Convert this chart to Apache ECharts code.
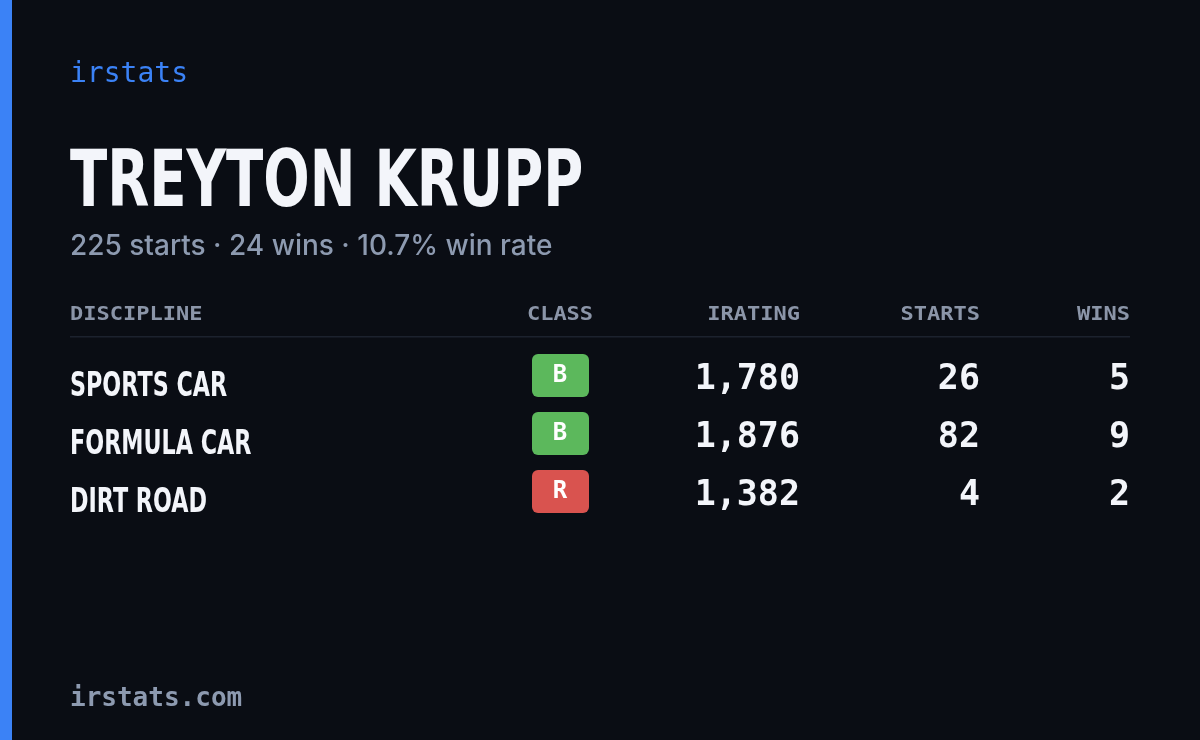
<!DOCTYPE html>
<html><head><meta charset="utf-8">
<script src="https://cdn.jsdelivr.net/npm/echarts@6/dist/echarts.min.js"></script>
<style>html,body{margin:0;padding:0;background:#0a0d14}#c{width:1200px;height:740px}</style>
</head><body><div id="c"></div>
<script>
const brand = "irstats";
const driverName = "TREYTON KRUPP";
const summary = "225 starts · 24 wins · 10.7% win rate";
const headers = ["DISCIPLINE", "CLASS", "IRATING", "STARTS", "WINS"];
const disciplines = ["SPORTS CAR", "FORMULA CAR", "DIRT ROAD"];
const classes = ["B", "B", "R"];
const iratings = [1780, 1876, 1382];
const starts = [26, 82, 4];
const wins = [5, 9, 2];
const footer = "irstats.com";

const classColor = {B: "#5cb85c", R: "#d9534f", A: "#3b82f6", C: "#f0ad4e", D: "#e67e22"};
const mono = "'DejaVu Sans Mono', monospace";
const cond = "'DejaVu Sans', sans-serif";
const g = [];
g.push({type:'rect', shape:{x:0,y:0,width:12,height:740}, style:{fill:'#3b82f6'}});
g.push({type:'text', x:70, y:75, style:{text:brand, fill:'#3b82f6', font:"28px "+mono, textVerticalAlign:'middle'}});
g.push({type:'text', x:70, y:186, scaleX:0.70, style:{text:driverName, fill:'#f3f5fa', font:"bold 78px "+cond, textVerticalAlign:'middle'}});
g.push({type:'text', x:70, y:247, style:{text:summary, fill:'#8d9ab0', font:"500 28px Inter, sans-serif", textVerticalAlign:'middle'}});
const colX = [70, 560, 800, 980, 1130];
const colAlign = ['left','center','right','right','right'];
headers.forEach((h,i)=>g.push({type:'text', x:colX[i], y:315, scaleX:1.1, style:{text:h, fill:'#8b95a8', font:"bold 20px "+mono, textAlign:colAlign[i], textVerticalAlign:'middle'}}));
g.push({type:'rect', shape:{x:70,y:336,width:1060,height:1.5}, style:{fill:'#1c222e'}});
disciplines.forEach((d,i)=>{
  const y = 378 + i*58;
  g.push({type:'text', x:70, y:y+9, scaleX:0.655, style:{text:d, fill:'#f3f5fa', font:"bold 34px "+cond, textVerticalAlign:'middle'}});
  g.push({type:'rect', shape:{x:532,y:y-24,width:57,height:43,r:6}, style:{fill:classColor[classes[i]]}});
  g.push({type:'text', x:560, y:y-2, style:{text:classes[i], fill:'#ffffff', font:"bold 24px "+mono, textAlign:'center', textVerticalAlign:'middle'}});
  g.push({type:'text', x:800, y:y+2, style:{text:iratings[i].toLocaleString('en-US'), fill:'#f3f5fa', font:"bold 35px "+mono, textAlign:'right', textVerticalAlign:'middle'}});
  g.push({type:'text', x:980, y:y+2, style:{text:String(starts[i]), fill:'#f3f5fa', font:"bold 35px "+mono, textAlign:'right', textVerticalAlign:'middle'}});
  g.push({type:'text', x:1130, y:y+2, style:{text:String(wins[i]), fill:'#f3f5fa', font:"bold 35px "+mono, textAlign:'right', textVerticalAlign:'middle'}});
});
g.push({type:'text', x:70, y:699, style:{text:footer, fill:'#8d9ab0', font:"bold 26px "+mono, textVerticalAlign:'middle'}});
const chart = echarts.init(document.getElementById('c'));
chart.setOption({backgroundColor:'#0a0d14', graphic:g});
</script></body></html>
